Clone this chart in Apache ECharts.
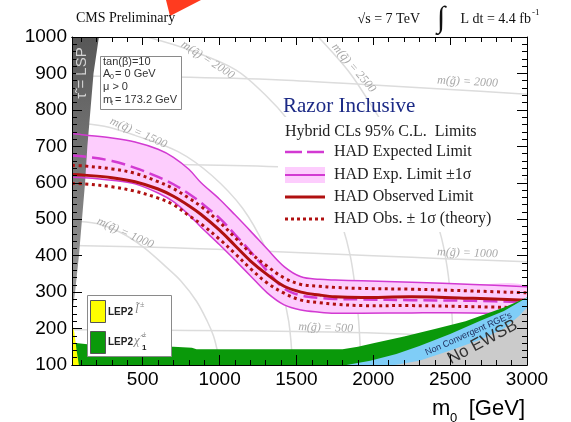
<!DOCTYPE html>
<html>
<head>
<meta charset="utf-8">
<script src="https://cdn.jsdelivr.net/npm/echarts@6/dist/echarts.min.js"></script>
<style>
  html, body { margin: 0; padding: 0; background: #fff; }
  #chart { width: 571px; height: 422px; }
</style>
</head>
<body>
<div id="chart"></div>
<script>
// ---- axis ticks (m0 horizontal, m1/2 vertical, GeV) ----
const m0Major = [500, 1000, 1500, 2000, 2500, 3000];
const m0Minor = [100, 200, 300, 400, 600, 700, 800, 900, 1100, 1200, 1300, 1400,
                 1600, 1700, 1800, 1900, 2100, 2200, 2300, 2400, 2600, 2700, 2800, 2900];

// ---- HAD limit curves: m1/2 at each m0 ----
const limitM0  = [40, 120, 300, 450, 600, 700, 800, 880, 1000, 1100, 1200, 1310, 1420, 1530, 1650, 1750, 1925, 2250, 2650, 3000];
const expBandHi = [735, 731, 723, 712, 692, 670, 637, 600, 555, 512, 468, 418, 370, 342, 335, 333, 331, 327, 321, 315];
const expBandLo = [615, 614, 607, 597, 572, 548, 512, 478, 430, 388, 345, 298, 265, 251, 245, 242, 242, 243, 243, 240];
const expected  = [675, 672, 660, 641, 616, 596, 570, 545, 503, 458, 412, 358, 310, 291, 284, 281, 280, 278, 276, 272];
const observed  = [623, 621, 614, 603, 583, 563, 537, 513, 470, 428, 386, 348, 316, 300, 292, 287, 285, 287, 283, 278];
const obsTheoHi = [648, 646, 638, 626, 603, 584, 558, 535, 492, 450, 408, 371, 339, 321, 316, 313, 310, 308, 303, 298];
const obsTheoLo = [598, 597, 589, 577, 558, 540, 510, 487, 445, 406, 365, 325, 297, 278, 271, 267, 263, 263, 260, 257];

// ---- iso-mass contours [m0, m1/2] ----
const squark1000 = [[40, 495], [200, 488], [350, 465], [500, 425], [650, 370], [750, 330], [850, 275], [920, 220], [960, 180], [985, 140], [1005, 100]];
const squark1500 = [[40, 765], [250, 755], [450, 730], [733, 685], [950, 620], [1150, 530], [1300, 420], [1400, 310], [1450, 220], [1475, 100]];
const squark2000 = [[530, 1000], [800, 965], [1105, 910], [1300, 840], [1450, 770], [1600, 680], [1720, 570], [1800, 480], [1850, 400], [1880, 320], [1905, 220], [1920, 100]];
const squark2500 = [[1642, 1000], [1850, 900], [2035, 781], [2200, 680], [2330, 580], [2430, 470], [2480, 370], [2510, 250], [2525, 100]];
const gluino500  = [[40, 197], [800, 195], [1500, 192], [2000, 188], [2500, 180], [3000, 170]];
const gluino1000 = [[40, 428], [700, 422], [1300, 412], [2000, 400], [2500, 391], [3000, 383]];
const gluino1500 = [[40, 652], [700, 650], [1380, 644], [2000, 632], [3000, 610]];
const gluino2000 = [[40, 893], [700, 890], [1400, 882], [2000, 868], [2500, 856], [3000, 843]];

// ---- excluded / unphysical regions [m0, m1/2] ----
const stauLSP   = [[40, 240], [60, 300], [85, 400], [105, 500], [125, 600], [140, 700], [160, 800], [180, 900], [215, 1000], [40, 1000]];
const lepSlepton = [[40, 100], [40, 215], [55, 190], [70, 140], [85, 100]];
const lepChargino = [[40, 100], [40, 162], [80, 160], [200, 154], [700, 150], [820, 147], [850, 143], [1800, 143], [1900, 150],
                     [2000, 160], [2200, 178], [2400, 199], [2600, 220], [2700, 235], [2850, 258], [3000, 285], [3000, 100]];
const nonConvRGE = [[1825, 100], [1980, 112], [2150, 130], [2300, 152], [2500, 185], [2700, 222], [2850, 248], [3000, 285], [3000, 100]];
const noEWSB     = [[2140, 100], [2300, 112], [2500, 140], [2700, 170], [2850, 200], [2950, 235], [3000, 258], [3000, 100]];

// ---- contour annotations ----
const isoLabelText = ['m(q\u0303) = 2500', 'm(q\u0303) = 2000', 'm(q\u0303) = 1500', 'm(q\u0303) = 1000',
                      'm(g\u0303) = 2000', 'm(g\u0303) = 1000', 'm(g\u0303) = 500'];
const isoLabelAt   = [[1873, 915], [923, 937], [472, 737], [386, 462], [2613, 877], [2613, 407], [1690, 202]];
const isoLabelRot  = [-49, -33, -24, -24, -3, -2, -2];

const SERIF = '"Liberation Serif", "DejaVu Serif", serif';
const SANS = '"Liberation Sans", Arial, sans-serif';
const RED = '#b01010';
const MAG = '#d23ad2';
const ISO = '#dcdcdc';
const SMOOTH = 0.35;

const pairs = (xs, ys) => xs.map((x, i) => [x, ys[i]]);

// open curve through data points, projected by the cartesian axes
function curve(pts, style, z) {
  return {
    type: 'custom', silent: true, clip: true, z,
    data: [pts[0]],
    renderItem: (params, api) => ({
      type: 'polyline',
      shape: { points: pts.map(p => api.coord(p)), smooth: SMOOTH },
      style: Object.assign({ fill: 'none', lineCap: 'butt' }, style)
    })
  };
}

// filled area bounded by the given points
function region(pts, fill, z, smooth) {
  return {
    type: 'custom', silent: true, clip: true, z,
    data: [pts[0]],
    renderItem: (params, api) => ({
      type: 'polygon',
      shape: { points: pts.map(p => api.coord(p)), smooth: smooth || 0 },
      style: { fill }
    })
  };
}

function rotatedLabels(pos, texts, rots, font, color, z) {
  return {
    type: 'custom', silent: true, z,
    data: pos,
    renderItem: (params, api) => {
      const c = api.coord([api.value(0), api.value(1)]);
      return {
        type: 'text', x: c[0], y: c[1], rotation: rots[params.dataIndex] * Math.PI / 180,
        style: Object.assign({ text: texts[params.dataIndex], fill: color, align: 'center', verticalAlign: 'middle' }, font)
      };
    }
  };
}

const axisLineStyle = { color: '#000', width: 1 };
const plain = v => String(v);

function xAxisDef(position, values, len, labels) {
  return {
    type: 'value', position, min: 40, max: 3000, z: 50,
    axisLine: { show: true, onZero: false, lineStyle: axisLineStyle },
    axisTick: { show: true, inside: true, length: len, customValues: values, lineStyle: { color: '#000', width: 1 } },
    axisLabel: labels
      ? { show: true, customValues: values, formatter: plain, fontFamily: SANS, fontSize: 19, color: '#000', margin: 5 }
      : { show: false },
    splitLine: { show: false }
  };
}

function yAxisDef(position, labels) {
  return {
    type: 'value', position, min: 100, max: 1000, interval: 100, z: 50,
    axisLine: { show: true, onZero: false, lineStyle: axisLineStyle },
    axisTick: { show: true, inside: true, length: 10, lineStyle: { color: '#000', width: 1 } },
    minorTick: { show: true, splitNumber: 5, length: 5, lineStyle: { color: '#000', width: 1 } },
    axisLabel: labels
      ? { show: true, formatter: plain, fontFamily: SANS, fontSize: 19, color: '#000', margin: 5 }
      : { show: false },
    splitLine: { show: false }, minorSplitLine: { show: false }
  };
}

const lspFill = new echarts.graphic.LinearGradient(0, 0, 0, 1, [
  { offset: 0, color: '#575757' }, { offset: 1, color: '#9c9c9c' }
]);

const bandHiPts = pairs(limitM0, expBandHi);
const bandLoPts = pairs(limitM0, expBandLo);

const series = [
  // iso-mass contours
  curve(squark1000, { stroke: ISO, lineWidth: 1.5 }, 1),
  curve(squark1500, { stroke: ISO, lineWidth: 1.5 }, 1),
  curve(squark2000, { stroke: ISO, lineWidth: 1.5 }, 1),
  curve(squark2500, { stroke: ISO, lineWidth: 1.5 }, 1),
  curve(gluino500, { stroke: ISO, lineWidth: 1.5 }, 1),
  curve(gluino1000, { stroke: ISO, lineWidth: 1.5 }, 1),
  curve(gluino1500, { stroke: ISO, lineWidth: 1.5 }, 1),
  curve(gluino2000, { stroke: ISO, lineWidth: 1.5 }, 1),
  rotatedLabels(isoLabelAt, isoLabelText, isoLabelRot,
    { fontFamily: SERIF, fontStyle: 'italic', fontSize: 12 }, '#a8a8a8', 2),

  // expected +-1 sigma band
  region(bandHiPts.concat(bandLoPts.slice().reverse()), '#fdcdfd', 3, SMOOTH),

  // stau LSP region
  region(stauLSP, lspFill, 4),

  // limit curves
  curve(bandHiPts, { stroke: MAG, lineWidth: 1.5 }, 6),
  curve(bandLoPts, { stroke: MAG, lineWidth: 1.5 }, 6),
  curve(pairs(limitM0, expected), { stroke: MAG, lineWidth: 2.5, lineDash: [14, 6] }, 7),
  curve(pairs(limitM0, observed), { stroke: RED, lineWidth: 3 }, 8),
  curve(pairs(limitM0, obsTheoHi), { stroke: RED, lineWidth: 3, lineDash: [3, 3.6] }, 8),
  curve(pairs(limitM0, obsTheoLo), { stroke: RED, lineWidth: 3, lineDash: [3, 3.6] }, 8),

  // LEP and theory-excluded regions
  region(lepChargino, '#0a990a', 10),
  region(lepSlepton, '#ffff00', 11),
  region(nonConvRGE, '#7fcdf7', 12),
  region(noEWSB, '#cbcbcb', 13),
  rotatedLabels([[2620, 185]], ["Non Convergent RGE's"], [24],
    { fontFamily: SANS, fontSize: 9 }, '#1d2a5a', 14),
  rotatedLabels([[2711, 163]], ['No EWSB'], [28],
    { fontFamily: SANS, fontSize: 17 }, '#333', 14)
];

const T = (x, y, text, size, opts) => Object.assign({
  type: 'text', x, y, z: 70,
  style: Object.assign({ text, fontSize: size, fontFamily: SERIF, fill: '#222', align: 'left', verticalAlign: 'middle' }, (opts && opts.style) || {})
}, opts && opts.el ? opts.el : {});

const graphicEls = [
  // top decoration
  { type: 'polygon', z: 70, shape: { points: [[166, 0], [201, 0], [170, 16]] }, style: { fill: '#ff3b1f' } },

  // header
  T(76, 18, 'CMS Preliminary', 14, { style: { fill: '#111' } }),
  T(420, 19, '\u221As = 7 TeV', 14, { style: { fill: '#111', align: 'right' } }),
  T(437, 19, '\u222B', 30, { style: { fill: '#111' } }),
  T(531, 19, 'L dt = 4.4 fb', 14, { style: { fill: '#111', align: 'right' } }),
  T(532, 13, '-1', 9, { style: { fill: '#111' } }),

  // stau LSP label
  { type: 'text', x: 82, y: 73, rotation: Math.PI / 2, z: 70,
    style: { text: '\u03C4\u0303 = LSP', fontFamily: SANS, fontSize: 15, fill: '#d4d4d4', align: 'center', verticalAlign: 'middle' } },

  // model parameters box
  { type: 'rect', z: 60, shape: { x: 100.5, y: 56.5, width: 81, height: 53 }, style: { fill: '#fff', stroke: '#8a8a8a', lineWidth: 1 } },
  T(103, 62, 'tan(\u03B2)=10', 11, { style: { fontFamily: SANS, fill: '#333' } }),
  T(103, 74, 'A', 11, { style: { fontFamily: SANS, fill: '#333' } }),
  T(110, 77, '0', 7, { style: { fontFamily: SANS, fill: '#333' } }),
  T(115, 74, '= 0 GeV', 11, { style: { fontFamily: SANS, fill: '#333' } }),
  T(103, 87, '\u03BC > 0', 11, { style: { fontFamily: SANS, fill: '#333' } }),
  T(103, 100, 'm', 11, { style: { fontFamily: SANS, fill: '#333' } }),
  T(111, 103, 't', 7, { style: { fontFamily: SANS, fill: '#333' } }),
  T(115, 100, '= 173.2 GeV', 11, { style: { fontFamily: SANS, fill: '#333' } }),

  // LEP2 box
  { type: 'rect', z: 60, shape: { x: 87.5, y: 295.5, width: 84, height: 61 }, style: { fill: '#fff', stroke: '#8a8a8a', lineWidth: 1 } },
  { type: 'rect', z: 61, shape: { x: 90.5, y: 300.5, width: 15, height: 22 }, style: { fill: '#ffff00', stroke: '#555', lineWidth: 1 } },
  { type: 'rect', z: 61, shape: { x: 90.5, y: 331.5, width: 15, height: 22 }, style: { fill: '#0a990a', stroke: '#555', lineWidth: 1 } },
  T(108, 312, 'LEP2', 10, { style: { fontFamily: SANS, fontWeight: 'bold', fill: '#222' } }),
  T(135, 310, 'l\u0303', 13, { style: { fontStyle: 'italic', fill: '#888' } }),
  T(140, 305, '\u00B1', 8, { style: { fill: '#888' } }),
  T(108, 342, 'LEP2', 10, { style: { fontFamily: SANS, fontWeight: 'bold', fill: '#222' } }),
  T(134, 341, '\u03C7\u0303', 13, { style: { fontStyle: 'italic', fill: '#888' } }),
  T(142, 335, '\u00B1', 8, { style: { fill: '#888' } }),
  T(142, 348, '1', 8, { style: { fontFamily: SANS, fontWeight: 'bold', fill: '#222' } }),

  // limits legend
  { type: 'rect', z: 40, shape: { x: 278, y: 117, width: 246, height: 115 }, style: { fill: '#fff' } },
  T(283, 106, 'Razor Inclusive', 21, { style: { fill: '#1c2a86' } }),
  T(285, 132, 'Hybrid CLs 95% C.L.  Limits', 16),
  { type: 'line', z: 62, shape: { x1: 285, y1: 152, x2: 325, y2: 152 }, style: { stroke: MAG, lineWidth: 2.5, lineDash: [17, 5] } },
  T(334, 152, 'HAD Expected Limit', 16),
  { type: 'rect', z: 61, shape: { x: 285, y: 167, width: 40, height: 16 }, style: { fill: '#fdcdfd' } },
  { type: 'line', z: 62, shape: { x1: 285, y1: 175, x2: 325, y2: 175 }, style: { stroke: MAG, lineWidth: 2 } },
  T(334, 175, 'HAD Exp. Limit \u00B11\u03C3', 16),
  { type: 'line', z: 62, shape: { x1: 285, y1: 197, x2: 325, y2: 197 }, style: { stroke: RED, lineWidth: 3 } },
  T(334, 197, 'HAD Observed Limit', 16),
  { type: 'line', z: 62, shape: { x1: 285, y1: 219, x2: 325, y2: 219 }, style: { stroke: RED, lineWidth: 3, lineDash: [3, 3] } },
  T(334, 219, 'HAD Obs. \u00B1 1\u03C3 (theory)', 16),

  // horizontal axis title
  T(432, 409, 'm', 22, { style: { fontFamily: SANS, fill: '#000' } }),
  T(450, 418, '0', 13, { style: { fontFamily: SANS, fill: '#000' } }),
  T(525, 409, '[GeV]', 22, { style: { fontFamily: SANS, fill: '#000', align: 'right' } })
];

const chart = echarts.init(document.getElementById('chart'), null, { renderer: 'canvas', width: 571, height: 422 });
chart.setOption({
  animation: false,
  backgroundColor: '#fff',
  grid: { left: 72, right: 44, top: 37, bottom: 57, containLabel: false, outerBoundsMode: 'none' },
  xAxis: [
    xAxisDef('bottom', m0Major, 10, true),
    xAxisDef('bottom', m0Minor, 5, false),
    xAxisDef('top', m0Major, 8, false),
    xAxisDef('top', m0Minor, 5, false)
  ],
  yAxis: [yAxisDef('left', true), yAxisDef('right', false)],
  series: series.map(s => Object.assign({ xAxisIndex: 0, yAxisIndex: 0 }, s)),
  graphic: { elements: graphicEls }
});
</script>
</body>
</html>
